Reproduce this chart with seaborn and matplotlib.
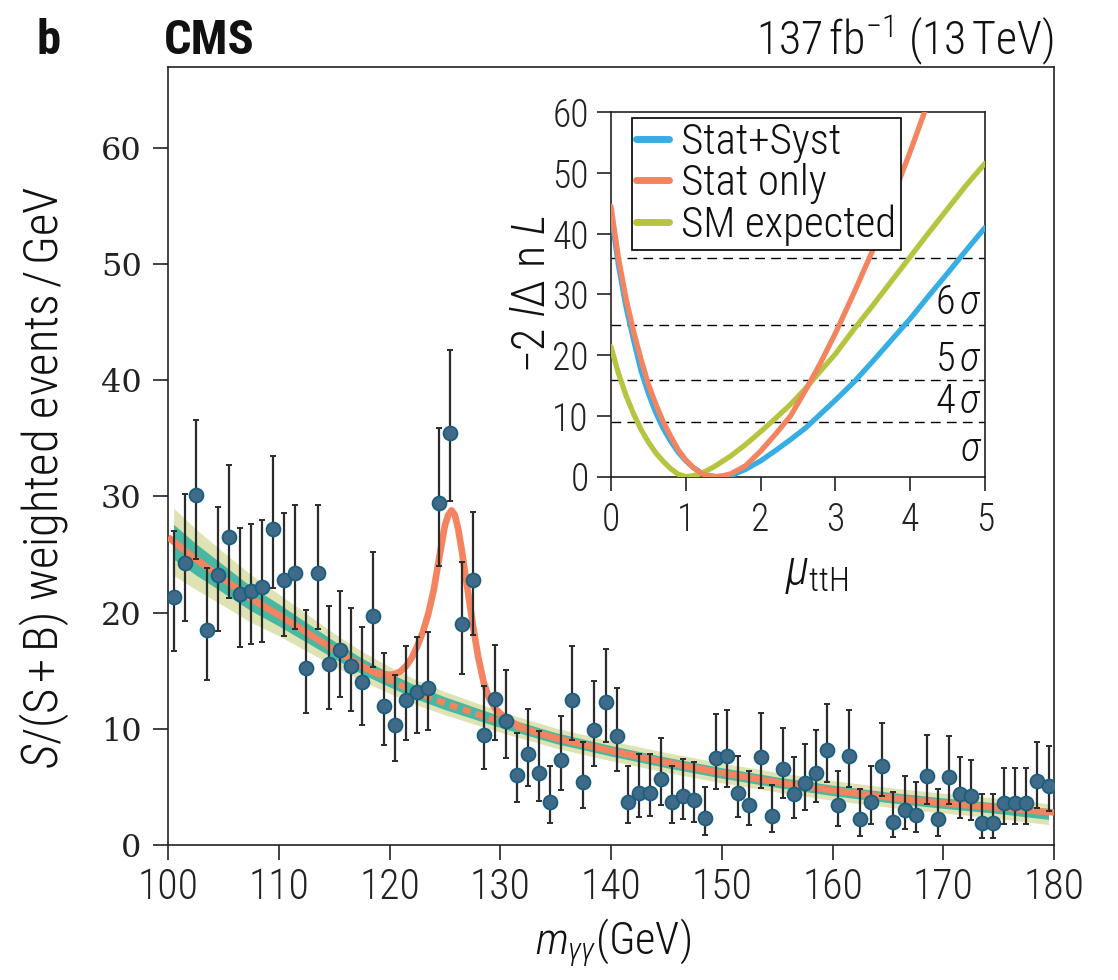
import numpy as np
import pandas as pd
import matplotlib
matplotlib.use("Agg")
import matplotlib.pyplot as plt
import seaborn as sns

# ---- diphoton mass spectrum, S/(S+B) weighted, 1 GeV bins ----
bin_lo, bin_hi = 100.0, 180.0
events = [21.35, 24.3, 30.1, 18.5, 23.2, 26.5, 21.6, 21.9, 22.2, 27.2,
          22.8, 23.4, 15.2, 23.4, 15.6, 16.8, 15.4, 14.0, 19.7, 12.0,
          10.3, 12.5, 13.2, 13.5, 29.4, 35.5, 19.0, 22.8, 9.5, 12.6,
          10.7, 6.0, 7.8, 6.2, 3.7, 7.3, 12.5, 5.4, 9.9, 12.3,
          9.4, 3.7, 4.5, 4.5, 5.7, 3.7, 4.2, 3.9, 2.35, 7.5,
          7.7, 4.5, 3.4, 7.6, 2.5, 6.5, 4.35, 5.3, 6.2, 8.2,
          3.4, 7.7, 2.2, 3.7, 6.8, 2.0, 3.0, 2.6, 5.95, 2.2,
          5.85, 4.35, 4.2, 1.9, 1.9, 3.6, 3.6, 3.65, 5.5, 5.1]
err_high = [27.0, 30.2, 36.6, 23.8, 29.1, 32.7, 27.3, 27.6, 28.0, 33.5,
            28.6, 29.3, 20.2, 29.3, 20.6, 21.9, 20.4, 18.8, 25.2, 16.5,
            14.6, 17.1, 17.9, 18.3, 35.9, 42.6, 24.4, 28.7, 13.7, 17.2,
            15.1, 9.6, 11.7, 9.8, 6.8, 11.1, 17.1, 8.9, 14.1, 16.9,
            13.5, 6.8, 7.8, 7.8, 9.2, 6.8, 7.4, 7.1, 5.0, 11.3,
            11.6, 7.7, 6.4, 11.4, 5.2, 10.1, 7.6, 8.7, 9.9, 12.1,
            6.4, 11.6, 4.8, 6.8, 10.5, 4.6, 5.9, 5.4, 9.5, 4.8,
            9.35, 7.6, 7.3, 4.4, 4.4, 6.6, 6.6, 6.6, 8.9, 8.5]
err_low = [16.7, 19.3, 24.6, 14.2, 18.4, 21.3, 17.0, 17.3, 17.5, 22.1,
           18.0, 18.6, 11.4, 18.6, 11.7, 12.7, 11.5, 10.3, 15.3, 8.6,
           7.2, 9.0, 9.6, 9.9, 24.0, 29.6, 14.7, 18.1, 6.5, 9.0,
           7.5, 3.7, 5.1, 3.8, 1.9, 4.7, 9.0, 3.2, 6.8, 8.9,
           6.4, 1.9, 2.4, 2.5, 3.4, 1.9, 2.2, 2.0, 0.9, 4.8,
           5.0, 2.4, 1.7, 4.9, 1.1, 4.0, 2.3, 3.05, 3.7, 5.4,
           1.6, 5.0, 0.8, 1.8, 4.25, 0.7, 1.35, 1.1, 3.55, 0.8,
           3.5, 2.3, 2.15, 0.6, 0.6, 1.8, 1.8, 1.8, 3.15, 2.9]

# background-only fit and its 1/2 sigma bands
bkg_mass = [100, 102.5, 105, 107.5, 110, 112.5, 115, 117.5, 120, 122.5, 125, 127.5,
            130, 132.5, 135, 140, 145, 150, 155, 160, 165, 170, 175, 180]
bkg_fit = [26.5, 24.6, 22.9, 21.2, 19.8, 18.3, 16.8, 15.4, 14.2, 13.1, 12.2, 11.4,
           10.6, 9.9, 9.2, 8.1, 7.1, 6.2, 5.4, 4.7, 4.1, 3.6, 3.2, 2.8]
band_mass = [100.5, 102.5, 105, 107.5, 110, 112.5, 115, 117.5, 120, 122.5, 125, 127.5,
             130, 132.5, 135, 140, 145, 150, 155, 160, 165, 170, 175, 179.5]
band_mid = [26.1, 24.6, 22.9, 21.2, 19.8, 18.3, 16.8, 15.4, 14.2, 13.1, 12.2, 11.4,
            10.6, 9.9, 9.2, 8.1, 7.1, 6.2, 5.4, 4.7, 4.1, 3.6, 3.15, 2.65]
band_1sig = [1.5, 1.35, 1.2, 1.05, 0.95, 0.85, 0.75, 0.68, 0.6, 0.57, 0.55, 0.52,
             0.5, 0.48, 0.47, 0.45, 0.45, 0.45, 0.45, 0.45, 0.45, 0.45, 0.45, 0.45]
band_2sig = [2.9, 2.6, 2.3, 2.05, 1.8, 1.6, 1.4, 1.27, 1.15, 1.07, 1.0, 0.95,
             0.9, 0.88, 0.86, 0.85, 0.85, 0.85, 0.85, 0.85, 0.85, 0.85, 0.87, 0.9]

# signal + background fit around the Higgs peak
peak_mass = [117.5, 118.5, 119.5, 120.0, 120.5, 121.0, 121.5, 122.0, 122.5, 123.0,
             123.5, 124.0, 124.5, 125.0, 125.3, 125.6, 125.9, 126.2, 126.5, 126.8,
             127.2, 127.6, 128.0, 128.5, 129.0, 129.5, 130.0, 131.0, 132.0, 132.5]
peak_fit = [15.4, 14.9, 14.7, 14.65, 14.7, 14.95, 15.4, 16.1, 17.1, 18.3,
            19.9, 22.0, 24.8, 27.5, 28.4, 28.8, 28.4, 27.2, 25.5, 23.6,
            21.0, 18.5, 16.2, 14.0, 12.6, 11.8, 11.3, 10.6, 10.1, 9.9]

# likelihood scans in mu_ttH
mu = [0, 0.1, 0.2, 0.3, 0.4, 0.5, 0.6, 0.7, 0.8, 0.9, 1.0, 1.1, 1.2, 1.3, 1.4, 1.5,
      1.6, 1.8, 2.0, 2.2, 2.4, 2.6, 2.8, 3.0, 3.25, 3.5, 3.75, 4.0, 4.25, 4.5, 4.75, 5.0]
nll_stat_syst = [43.4, 34.8, 28.0, 22.6, 17.5, 13.7, 10.5, 7.9, 5.8, 4.0, 2.6, 1.5, 0.7,
                 0.2, 0.02, 0.02, 0.15, 1.2, 2.6, 4.3, 6.1, 8.0, 10.3, 12.6, 15.6, 19.0,
                 22.5, 26.0, 29.8, 33.5, 37.3, 41.0]
mu_stat = mu[:29]
nll_stat_only = [44.5, 36.0, 29.4, 24.0, 19.4, 15.2, 11.9, 9.0, 6.6, 4.4, 2.75, 1.5, 0.6,
                 0.1, 0.0, 0.15, 0.45, 1.8, 4.2, 7.0, 10.0, 14.2, 18.7, 23.6, 30.3, 37.3,
                 45.5, 53.5, 62.0]
nll_sm_exp = [21.4, 17.0, 13.4, 10.4, 7.8, 5.7, 3.9, 2.5, 1.3, 0.4, 0.0, 0.15, 0.5,
              1.1, 1.8, 2.6, 3.4, 5.3, 7.4, 9.6, 11.9, 14.5, 17.4, 20.2, 24.3, 28.2,
              32.2, 36.2, 40.2, 44.1, 48.0, 51.6]
sigma_levels = [9, 16, 25, 36]
sigma_labels = [r"$\sigma$", r"4$\,\sigma$", r"5$\,\sigma$", r"6$\,\sigma$"]
sigma_label_y = [4.4, 12.4, 19.2, 28.6]

# ---- style ----
sns.set_theme(style="ticks")
BASE = "Roboto Condensed"
plt.rcParams["font.family"] = [BASE, "DejaVu Sans"]
plt.rcParams["font.weight"] = "light"
plt.rcParams["mathtext.fontset"] = "custom"
plt.rcParams["mathtext.rm"] = BASE + ":light"
plt.rcParams["mathtext.it"] = BASE + ":italic:light"
plt.rcParams["mathtext.bf"] = BASE + ":bold"
plt.rcParams["axes.linewidth"] = 1.2
plt.rcParams["axes.edgecolor"] = "#222222"
plt.rcParams["text.color"] = "#111111"
plt.rcParams["xtick.color"] = "#222222"
plt.rcParams["ytick.color"] = "#222222"

ORANGE = "#F4845F"
TEAL = "#48B8A2"
YELLOW = "#DFE3B3"
POINT = "#3F6A88"
POINT_EDGE = "#1B5E7E"
BLUE = "#36ADE3"
OLIVE = "#B6C43F"

fig = plt.figure(figsize=(11.18, 9.8), dpi=100)
ax = fig.add_axes([0.1503, 0.1378, 0.7925, 0.7942])

centers = np.arange(bin_lo + 0.5, bin_hi, 1.0)
data = pd.DataFrame({"mass": centers, "events": events,
                     "lo": err_low, "hi": err_high})

bands = pd.DataFrame({"mass": band_mass, "mid": band_mid,
                      "s1": band_1sig, "s2": band_2sig})
ax.fill_between(bands["mass"], bands["mid"] - bands["s2"], bands["mid"] + bands["s2"],
                color=YELLOW, lw=0, zorder=1)
ax.fill_between(bands["mass"], bands["mid"] - bands["s1"], bands["mid"] + bands["s1"],
                color=TEAL, lw=0, zorder=2)

bkg = pd.DataFrame({"mass": bkg_mass, "fit": bkg_fit})
peak = pd.DataFrame({"mass": peak_mass, "fit": peak_fit})
sb = pd.concat([bkg[bkg["mass"] < peak["mass"].min()], peak,
                bkg[bkg["mass"] > peak["mass"].max()]], ignore_index=True)

# background component under the peak, dashed
bkg_peak = bkg[(bkg["mass"] >= 117.5) & (bkg["mass"] <= 132.5)]
sns.lineplot(data=bkg_peak, x="mass", y="fit", ax=ax, color=ORANGE, lw=4.5,
             zorder=3, estimator=None, sort=False)
ax.lines[-1].set_dashes([1.3, 0.9])
ax.lines[-1].set_dash_capstyle("butt")
# full signal + background fit
sns.lineplot(data=sb, x="mass", y="fit", ax=ax, color=ORANGE, lw=4.8,
             zorder=4, estimator=None, sort=False)
ax.lines[-1].set_solid_capstyle("butt")
ax.lines[-1].set_solid_joinstyle("round")

ax.errorbar(data["mass"], data["events"],
            yerr=[data["events"] - data["lo"], data["hi"] - data["events"]],
            fmt="none", ecolor="#2b2b2b", elinewidth=1.6, capsize=2.2,
            capthick=1.4, zorder=5)
sns.scatterplot(data=data, x="mass", y="events", ax=ax, s=100, color=POINT,
                edgecolor=POINT_EDGE, linewidth=1.3, zorder=6)

ax.set_xlim(bin_lo, bin_hi)
ax.set_ylim(0, 67.0)
ax.set_xticks(np.arange(100, 181, 10))
ax.set_yticks(np.arange(0, 61, 10))
ax.tick_params(axis="both", direction="out", length=11, width=1.2)
ax.tick_params(axis="x", labelsize=30, pad=5)
ax.tick_params(axis="y", labelsize=23, pad=8)
for lab in ax.get_yticklabels():
    lab.set_fontfamily("DejaVu Serif")
    lab.set_fontweight("normal")
ax.set_xlabel("")
ax.set_ylabel("")
for s in ax.spines.values():
    s.set_visible(True)

fig.text(0.040, 0.513, r"$S$/(S$\,$+$\,$B) weighted events$\,$/$\,$GeV", rotation=90,
         ha="center", va="center", fontsize=35)
fig.text(0.548, 0.038, r"$m_{\gamma\gamma}$(GeV)", ha="center", va="center", fontsize=32)
fig.text(0.033, 0.945, "b", fontsize=35, fontweight="bold", ha="left", va="baseline")
fig.text(0.147, 0.945, "CMS", fontsize=35, fontweight="bold", ha="left", va="baseline")
fig.text(0.9428, 0.945, r"137$\,$fb$^{-1}$ (13$\,$TeV)", fontsize=33, ha="right",
         va="baseline")

# ---- inset: likelihood scan ----
ins = fig.add_axes([0.5465, 0.5136, 0.3345, 0.3718])
ins.set_facecolor("white")
for lvl in sigma_levels:
    ins.axhline(lvl, color="black", lw=1.0, dashes=(7, 4.5), zorder=1)
for txt, yy in zip(sigma_labels, sigma_label_y):
    ins.text(4.96, yy, txt, ha="right", va="center", fontsize=29, zorder=2)

scan = pd.DataFrame({"mu": mu, "syst": nll_stat_syst, "exp": nll_sm_exp})
stat = pd.DataFrame({"mu": mu_stat, "stat": nll_stat_only})
sns.lineplot(data=scan, x="mu", y="syst", ax=ins, color=BLUE, lw=3.8,
             label="Stat+Syst", zorder=3, estimator=None, sort=False)
sns.lineplot(data=stat, x="mu", y="stat", ax=ins, color=ORANGE, lw=3.8,
             label="Stat only", zorder=5, estimator=None, sort=False)
sns.lineplot(data=scan, x="mu", y="exp", ax=ins, color=OLIVE, lw=3.8,
             label="SM expected", zorder=4, estimator=None, sort=False)

ins.set_xlim(0, 5)
ins.set_ylim(0, 60)
ins.set_xticks(range(0, 6))
ins.set_yticks(range(0, 61, 10))
ins.tick_params(axis="both", direction="out", length=10, width=1.2, labelsize=27)
ins.tick_params(axis="x", pad=8)
ins.tick_params(axis="y", pad=6)
ins.set_xlabel("")
ins.set_ylabel("")
for s in ins.spines.values():
    s.set_visible(True)
    s.set_color("#222222")

ins.text(-0.21, 0.5, r"$-2\ l\Delta\ \mathrm{n}\ L$", transform=ins.transAxes,
         rotation=90, ha="center", va="center", fontsize=33)
ins.text(0.55, -0.265, r"$\mu_{\mathrm{ttH}}$", transform=ins.transAxes,
         ha="center", va="center", fontsize=35)

leg = ins.legend(loc="upper left", bbox_to_anchor=(0.056, 0.984), borderaxespad=0,
                 fontsize=31, frameon=True, fancybox=False, edgecolor="black",
                 framealpha=1, handlelength=0.75, handletextpad=0.3,
                 borderpad=0.1, labelspacing=0.0)
leg.get_frame().set_linewidth(1.2)
for h in leg.get_lines():
    h.set_linewidth(5)

fig.savefig("out.png", dpi=100)
